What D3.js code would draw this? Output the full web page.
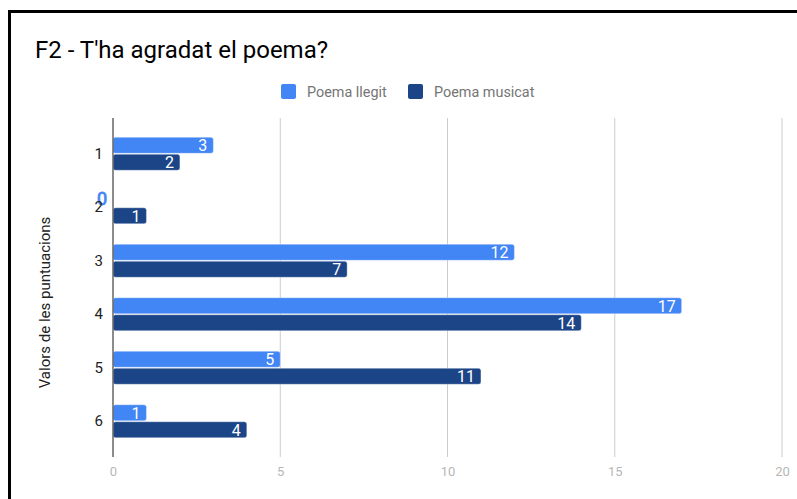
<!DOCTYPE html>
<html>
<head>
<meta charset="utf-8">
<script src="https://cdn.jsdelivr.net/npm/d3@7"></script>
<style>
  html, body { margin: 0; padding: 0; background: #fff; }
  svg { display: block; font-family: Roboto, "Noto Sans", sans-serif; }
</style>
</head>
<body>
<svg id="chart" width="797" height="499"></svg>
<script>
// Scores given to the poem, read vs. set to music
const categories = ["1", "2", "3", "4", "5", "6"];
const seriesNames = ["Poema llegit", "Poema musicat"];
const poemaLlegit = [3, 0, 12, 17, 5, 1];
const poemaMusicat = [2, 1, 7, 14, 11, 4];
const xTicks = [0, 5, 10, 15, 20];
const colors = ["#4285f4", "#1c4587"];

const svg = d3.select("#chart");

// Outer frame
svg.append("rect")
  .attr("x", 9.5).attr("y", 11.5)
  .attr("width", 820).attr("height", 520)
  .attr("fill", "none").attr("stroke", "#000").attr("stroke-width", 3);

// Title
svg.append("text")
  .attr("x", 35).attr("y", 58)
  .attr("font-size", 24).attr("fill", "#000")
  .text("F2 - T'ha agradat el poema?");

const plot = { left: 113, right: 782, top: 118, bottom: 457 };

const x = d3.scaleLinear().domain([0, 20]).range([plot.left, plot.right]);
const y = d3.scaleBand().domain(categories)
  .range([plot.top, plot.bottom])
  .paddingInner(0.383).paddingOuter(0.36);
const ySub = d3.scaleBand().domain(seriesNames)
  .range([0, y.bandwidth()]).paddingInner(0.06);

// Vertical gridlines
svg.append("g").selectAll("line")
  .data(xTicks.filter(t => t !== 0))
  .join("line")
  .attr("x1", d => x(d)).attr("x2", d => x(d))
  .attr("y1", plot.top).attr("y2", plot.bottom)
  .attr("stroke", "#cccccc").attr("stroke-width", 1);

// X tick labels
const xAxis = d3.axisBottom(x).tickValues(xTicks).tickSize(0).tickPadding(10);
const gx = svg.append("g")
  .attr("transform", `translate(0,${plot.bottom})`)
  .call(xAxis);
gx.select(".domain").remove();
gx.selectAll("text").attr("font-size", 13).attr("fill", "#b7b7b7")
  .attr("font-family", "Roboto, sans-serif");

// Legend
const legend = svg.append("g");
const legendItems = [
  { name: seriesNames[0], color: colors[0], x: 281 },
  { name: seriesNames[1], color: colors[1], x: 408 }
];
legendItems.forEach(it => {
  legend.append("rect")
    .attr("x", it.x).attr("y", 84).attr("width", 15).attr("height", 15)
    .attr("rx", 2).attr("fill", it.color);
  legend.append("text")
    .attr("x", it.x + 26).attr("y", 97)
    .attr("font-size", 14.4).attr("fill", "#757575")
    .text(it.name);
});

// Bars
const rows = categories.map((c, i) => ({
  cat: c,
  values: [poemaLlegit[i], poemaMusicat[i]]
}));

const groups = svg.append("g").selectAll("g")
  .data(rows).join("g")
  .attr("transform", d => `translate(0,${y(d.cat)})`);

groups.selectAll("rect")
  .data(d => d.values.map((v, j) => ({ v, s: seriesNames[j], c: colors[j] })))
  .join("rect")
  .attr("x", x(0))
  .attr("y", d => ySub(d.s))
  .attr("width", d => x(d.v) - x(0))
  .attr("height", ySub.bandwidth())
  .attr("rx", 2.5)
  .attr("fill", d => d.c)
  .attr("stroke", "#ffffff").attr("stroke-opacity", 0.35).attr("stroke-width", 1);

// Value labels at bar ends (a zero bar gets its label just left of the axis)
groups.selectAll("text")
  .data(d => d.values.map((v, j) => ({ v, s: seriesNames[j], c: colors[j] })))
  .join("text")
  .attr("x", d => x(d.v) - 6)
  .attr("y", d => ySub(d.s) + ySub.bandwidth() / 2)
  .attr("dy", "0.36em")
  .attr("text-anchor", "end")
  .attr("font-size", d => d.v === 0 ? 18 : 16)
  .attr("fill", d => d.v === 0 ? d.c : "#ffffff")
  .attr("stroke", d => d.v === 0 ? d.c : "none")
  .attr("stroke-width", d => d.v === 0 ? 0.8 : 0)
  .text(d => d.v);

// Baseline at zero
svg.append("line")
  .attr("x1", x(0)).attr("x2", x(0))
  .attr("y1", plot.top).attr("y2", plot.bottom)
  .attr("stroke", "#666666").attr("stroke-width", 1.5);

// Category labels
const yAxis = d3.axisLeft(y).tickSize(0).tickPadding(10);
const gy = svg.append("g")
  .attr("transform", `translate(${plot.left},0)`)
  .call(yAxis);
gy.select(".domain").remove();
gy.selectAll("text").attr("font-size", 15).attr("fill", "#222222")
  .attr("font-family", "Roboto, sans-serif");

// Y axis title
svg.append("text")
  .attr("transform", `translate(50,${(plot.top + plot.bottom) / 2 + 15}) rotate(-90)`)
  .attr("text-anchor", "middle")
  .attr("font-size", 15).attr("fill", "#222222")
  .text("Valors de les puntuacions");
</script>
</body>
</html>
